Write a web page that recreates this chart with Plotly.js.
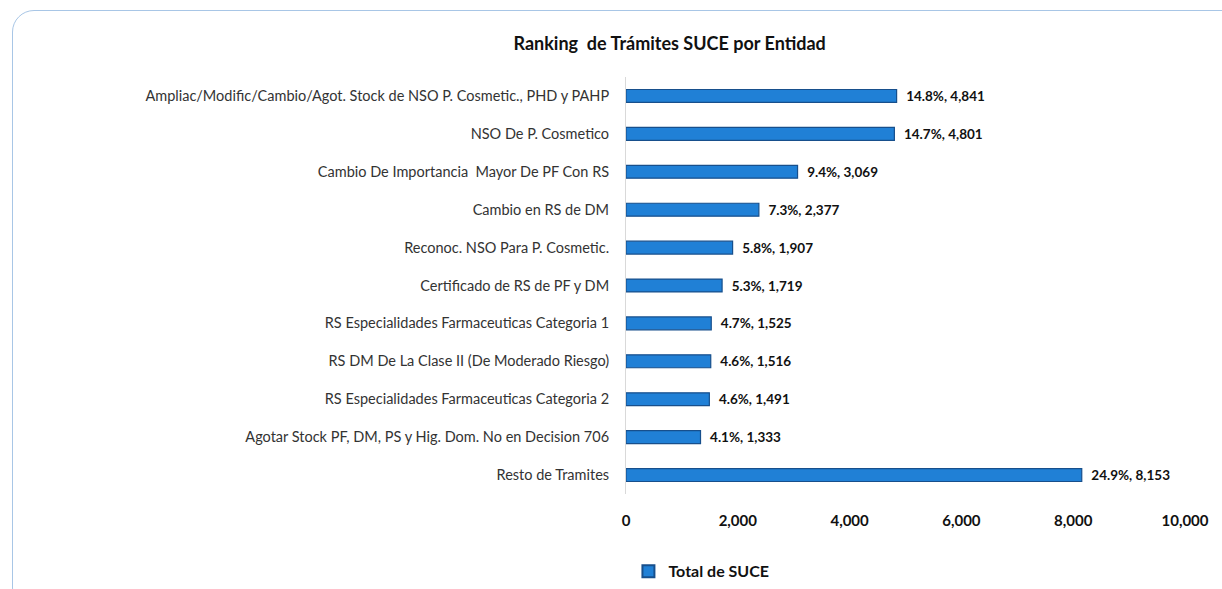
<!DOCTYPE html>
<html>
<head>
<meta charset="utf-8">
<script src="https://cdn.plot.ly/plotly-3.0.1.min.js"></script>
<style>
  html, body { margin: 0; padding: 0; background: #ffffff; }
  #frame { position: absolute; left: 12px; top: 10px; width: 1240px; height: 600px;
           border: 1.5px solid #a8c6e6; border-radius: 22px; box-sizing: border-box; }
  #chart { position: absolute; left: 0; top: 0; width: 1222px; height: 589px; }
</style>
</head>
<body>
<div id="frame"></div>
<div id="chart"></div>
<script>
const categories = [
  "Ampliac/Modific/Cambio/Agot. Stock de NSO P. Cosmetic., PHD y PAHP",
  "NSO De P. Cosmetico",
  "Cambio De Importancia  Mayor De PF Con RS",
  "Cambio en RS de DM",
  "Reconoc. NSO Para P. Cosmetic.",
  "Certificado de RS de PF y DM",
  "RS Especialidades Farmaceuticas Categoria 1",
  "RS DM De La Clase II (De Moderado Riesgo)",
  "RS Especialidades Farmaceuticas Categoria 2",
  "Agotar Stock PF, DM, PS y Hig. Dom. No en Decision 706",
  "Resto de Tramites"
];
const values = [4841, 4801, 3069, 2377, 1907, 1719, 1525, 1516, 1491, 1333, 8153];
const percents = ["14.8%", "14.7%", "9.4%", "7.3%", "5.8%", "5.3%", "4.7%", "4.6%", "4.6%", "4.1%", "24.9%"];
const xTickVals = [0, 2000, 4000, 6000, 8000, 10000];
const xTickText = ["0", "2,000", "4,000", "6,000", "8,000", "10,000"];

const labels = values.map((v, i) => "\u00a0\u00a0" + percents[i] + ", " + v.toLocaleString("en-US"));

const font = "Lato, 'Open Sans', 'Noto Sans', sans-serif";

const trace = {
  type: "bar",
  orientation: "h",
  name: "Total de SUCE",
  y: categories,
  x: values,
  text: labels,
  textposition: "outside",
  constraintext: "none",
  cliponaxis: false,
  textfont: { family: font, size: 13.5, color: "#111111", weight: "bold" },
  width: 0.34,
  marker: { color: "#2080d6", line: { color: "#174f8c", width: 1.2 } },
  hoverinfo: "x+y"
};

const layout = {
  width: 1222,
  height: 589,
  paper_bgcolor: "rgba(0,0,0,0)",
  plot_bgcolor: "rgba(0,0,0,0)",
  margin: { l: 626, r: 37, t: 77, b: 95 },
  title: {
    text: "<b>Ranking  de Trámites SUCE por Entidad</b>",
    font: { family: font, size: 18, color: "#111111" },
    x: 0.548, xanchor: "center", xref: "container",
    y: 0.925, yanchor: "middle", yref: "container"
  },
  xaxis: {
    range: [0, 10000],
    tickvals: xTickVals,
    ticktext: xTickText,
    showgrid: false,
    zeroline: false,
    showline: false,
    ticks: "",
    automargin: false,
    tickfont: { family: font, size: 15, color: "#111111", weight: "bold" },
    ticklabelstandoff: 16
  },
  yaxis: {
    autorange: "reversed",
    showline: true,
    linecolor: "#d9d9d9",
    linewidth: 1,
    ticks: "",
    automargin: false,
    showgrid: false,
    tickfont: { family: font, size: 14.5, color: "#333333" },
    ticklabelstandoff: 13
  },
  showlegend: true,
  legend: {
    orientation: "h",
    xref: "container", yref: "container",
    x: 0.574, xanchor: "center",
    y: 0.03, yanchor: "middle",
    font: { family: font, size: 16, color: "#111111", weight: "bold" },
    itemwidth: 30,
    itemsizing: "constant"
  },
  bargap: 0.6
};

Plotly.newPlot("chart", [trace], layout, { displayModeBar: false, staticPlot: true });
</script>
</body>
</html>
